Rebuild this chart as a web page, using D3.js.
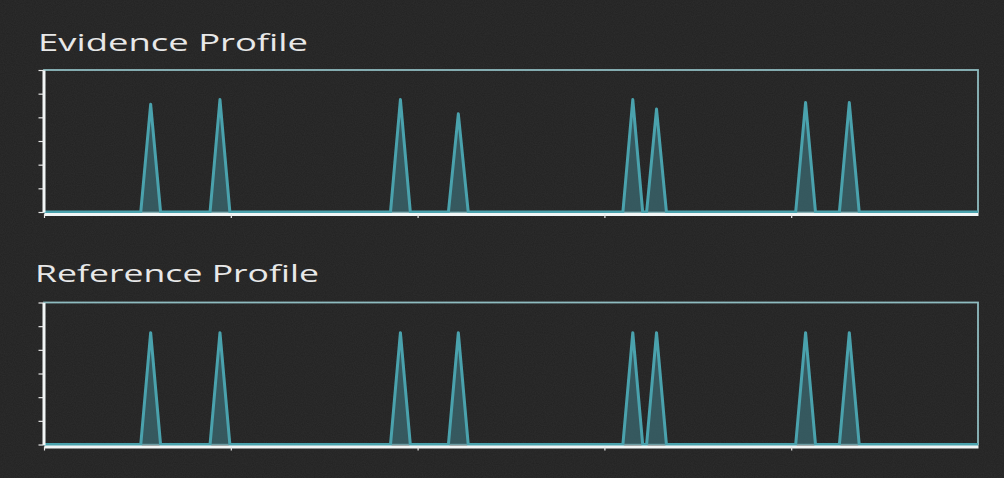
<!DOCTYPE html>
<html>
<head>
<meta charset="utf-8">
<script src="https://cdn.jsdelivr.net/npm/d3@7"></script>
<style>
  html, body { margin: 0; padding: 0; background: #232323; }
  svg { display: block; }
</style>
</head>
<body>
<svg id="chart" width="1004" height="478"></svg>
<script>
// ---- data ----
const panelTitles = ["Evidence Profile", "Reference Profile"];
const xTickValues = [0, 100, 200, 300, 400];
const yTickValues = [0, 0.2, 0.4, 0.6, 0.8, 1.0, 1.2];
const peakPositions = [57.1, 94.2, 190.8, 221.8, 315.2, 327.9, 407.7, 431.1];
const evidenceHeights = [0.91, 0.95, 0.95, 0.83, 0.95, 0.87, 0.925, 0.925];
const referenceHeights = [0.945, 0.945, 0.945, 0.945, 0.945, 0.945, 0.945, 0.945];
const peakHalfWidth = 5.3;
const xDomain = [0, 500];
const yDomain = [0, 1.2];

// ---- layout ----
const W = 1004, H = 478;
const svg = d3.select("#chart");

// background with subtle noise
const defs = svg.append("defs");
const f = defs.append("filter").attr("id", "noise").attr("x", 0).attr("y", 0).attr("width", "100%").attr("height", "100%");
f.append("feTurbulence").attr("type", "fractalNoise").attr("baseFrequency", 0.9).attr("numOctaves", 2).attr("seed", 3);
f.append("feColorMatrix").attr("type", "matrix")
  .attr("values", "0 0 0 0 0.22  0 0 0 0 0.22  0 0 0 0 0.22  0 0 0 0.12 0");
svg.append("rect").attr("width", W).attr("height", H).attr("fill", "#222222");
svg.append("rect").attr("width", W).attr("height", H).attr("filter", "url(#noise)");

const panels = [
  { title: panelTitles[0], heights: evidenceHeights, titleX: 38, titleY: 51, titleLen: 270, top: 70, bottom: 212 },
  { title: panelTitles[1], heights: referenceHeights, titleX: 35, titleY: 281.5, titleLen: 284, top: 302.5, bottom: 444.5 }
];

const left = 44, right = 978;
const x = d3.scaleLinear().domain(xDomain).range([left, right]);

panels.forEach(p => {
  const y = d3.scaleLinear().domain(yDomain).range([p.bottom, p.top]);
  const g = svg.append("g");

  // title
  g.append("text")
    .attr("x", p.titleX).attr("y", p.titleY)
    .attr("font-family", "'Open Sans', 'DejaVu Sans', sans-serif")
    .attr("font-size", 23)
    .attr("fill", "#e8e8e8")
    .attr("textLength", p.titleLen)
    .attr("lengthAdjust", "spacingAndGlyphs")
    .text(p.title);

  // frame (top & right)
  g.append("rect")
    .attr("x", x(xDomain[0])).attr("y", y(yDomain[1]))
    .attr("width", x(xDomain[1]) - x(xDomain[0]))
    .attr("height", y(yDomain[0]) - y(yDomain[1]))
    .attr("fill", "none")
    .attr("stroke", "#8fbcc0")
    .attr("stroke-width", 1.8);

  // series points: baseline with triangular peaks
  const pts = [[xDomain[0], 0]];
  peakPositions.forEach((pos, i) => {
    pts.push([pos - peakHalfWidth, 0]);
    pts.push([pos, p.heights[i]]);
    pts.push([pos + peakHalfWidth, 0]);
  });
  pts.push([xDomain[1], 0]);

  // fills for each peak
  peakPositions.forEach((pos, i) => {
    const tri = [[pos - peakHalfWidth, 0], [pos, p.heights[i]], [pos + peakHalfWidth, 0]];
    g.append("path")
      .attr("d", d3.area().x(d => x(d[0])).y0(y(0)).y1(d => y(d[1]))(tri))
      .attr("fill", "#3b6a72")
      .attr("fill-opacity", 0.75);
  });

  g.append("path")
    .attr("d", d3.line().x(d => x(d[0])).y(d => y(d[1]))(pts))
    .attr("fill", "none")
    .attr("stroke", "#4aa2ad")
    .attr("stroke-width", 3)
    .attr("stroke-linejoin", "round");

  // x axis
  const xAxis = d3.axisBottom(x).tickValues(xTickValues).tickSize(4).tickSizeOuter(0).tickFormat("");
  const xg = g.append("g").attr("transform", `translate(0,${y(0) + 2})`).call(xAxis);
  xg.select(".domain").attr("stroke", "#f2f6f6").attr("stroke-width", 3);
  xg.selectAll(".tick line").attr("stroke", "#e8e8e8").attr("stroke-width", 1.2);

  // y axis
  const yAxis = d3.axisLeft(y).tickValues(yTickValues).tickSize(5).tickSizeOuter(0).tickFormat("");
  const yg = g.append("g").attr("transform", `translate(${x(0) - 0.5},0)`).call(yAxis);
  yg.select(".domain").attr("stroke", "#f2f6f6").attr("stroke-width", 3);
  yg.selectAll(".tick line").attr("stroke", "#e8e8e8").attr("stroke-width", 1.2);
});
</script>
</body>
</html>
